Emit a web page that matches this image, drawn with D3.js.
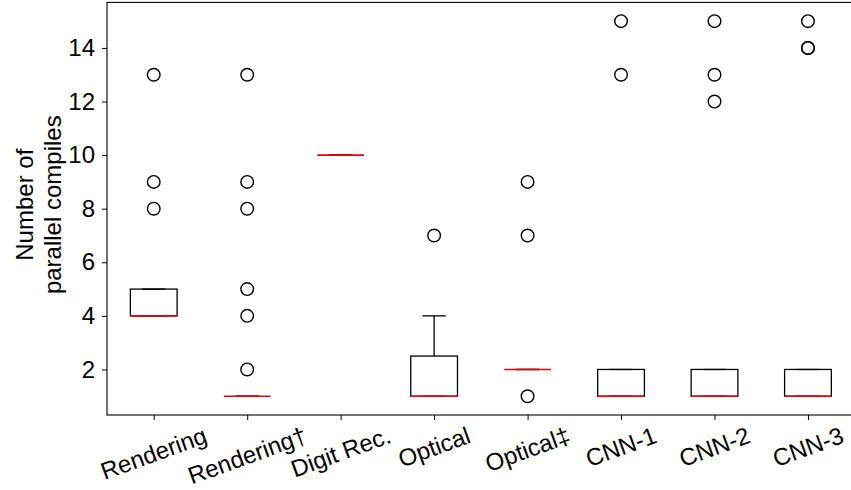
<!DOCTYPE html>
<html>
<head>
<meta charset="utf-8">
<script src="https://cdn.jsdelivr.net/npm/d3@7"></script>
<style>
  body { margin: 0; background: #fff; }
  text { font-family: "Liberation Sans", Arial, sans-serif; }
</style>
</head>
<body>
<div id="chart"></div>
<script>
// Box statistics
const categories = ["Rendering", "Rendering\u2020", "Digit Rec.", "Optical", "Optical\u2021", "CNN-1", "CNN-2", "CNN-3"];
const q1 =        [4, 1, 10, 1,   2, 1, 1, 1];
const medians =   [4, 1, 10, 1,   2, 1, 1, 1];
const q3 =        [5, 1, 10, 2.5, 2, 2, 2, 2];
const whiskLow =  [4, 1, 10, 1,   2, 1, 1, 1];
const whiskHigh = [5, 1, 10, 4,   2, 2, 2, 2];
const outliers = [
  [8, 9, 13],
  [2, 4, 5, 8, 9, 13],
  [],
  [7],
  [1, 7, 9],
  [13, 15],
  [12, 13, 15],
  [14, 14, 15]
];
const yTicks = [2, 4, 6, 8, 10, 12, 14];

const W = 851, H = 490;
const fontPx = 24;
const margin = {top: 2.4, right: -3.7, bottom: 75, left: 107};
const width = W - margin.left - margin.right,
      height = H - margin.top - margin.bottom;

const svg = d3.select("#chart").append("svg")
    .attr("width", W)
    .attr("height", H);

const g = svg.append("g")
    .attr("transform", `translate(${margin.left},${margin.top})`);

const x = d3.scaleLinear().domain([0.5, 8.5]).range([0, width]);
const y = d3.scaleLinear().domain([0.3, 15.7]).range([height, 0]);

const boxW = x(1.25) - x(1);   // half box width
const capW = boxW / 2;

// Y axis
const yAxis = g.append("g")
    .call(d3.axisLeft(y).tickValues(yTicks).tickSize(5).tickPadding(7));
yAxis.select(".domain").remove();
yAxis.selectAll("text").style("font-size", fontPx + "px").attr("fill", "#000");
yAxis.selectAll("line").attr("stroke", "#000");

// X axis
const xAxis = g.append("g")
    .attr("transform", `translate(0,${height})`)
    .call(d3.axisBottom(x).tickValues(d3.range(1, 9)).tickSize(5).tickFormat(""));
xAxis.select(".domain").remove();
xAxis.selectAll("line").attr("stroke", "#000");

// Rotated x labels, centred under each tick
categories.forEach(function(c, i) {
  const t = g.append("text")
      .style("font-size", fontPx + "px")
      .attr("text-anchor", "middle")
      .attr("dy", "0.35em")
      .text(c);
  const w = t.node().getComputedTextLength();
  const a = 20 * Math.PI / 180;
  const bh = w * Math.sin(a) + fontPx * Math.cos(a);
  t.attr("transform", `translate(${x(i + 1)},${height + 8 + bh / 2}) rotate(-20)`);
});

// Y axis label
const yl = svg.append("text")
    .attr("transform", `translate(33,${margin.top + height / 2 - 4}) rotate(-90)`)
    .attr("text-anchor", "middle")
    .style("font-size", fontPx + "px");
yl.append("tspan").attr("x", 0).attr("dy", 0).text("Number of");
yl.append("tspan").attr("x", 0).attr("dy", 28).text("parallel compiles");

// Boxes
const boxes = g.selectAll(".box")
  .data(categories)
  .join("g")
    .attr("class", "box")
    .attr("transform", (d, i) => `translate(${x(i + 1)},0)`);

boxes.append("line")
    .attr("y1", (d, i) => y(q3[i])).attr("y2", (d, i) => y(whiskHigh[i]))
    .attr("stroke", "#000").attr("stroke-width", 1.3);
boxes.append("line")
    .attr("y1", (d, i) => y(q1[i])).attr("y2", (d, i) => y(whiskLow[i]))
    .attr("stroke", "#000").attr("stroke-width", 1.3);
boxes.append("rect")
    .attr("x", -boxW)
    .attr("width", 2 * boxW)
    .attr("y", (d, i) => y(q3[i]))
    .attr("height", (d, i) => y(q1[i]) - y(q3[i]))
    .attr("fill", "none").attr("stroke", "#000").attr("stroke-width", 1.3);
[whiskLow, whiskHigh].forEach(function(arr) {
  boxes.append("line")
      .attr("x1", -capW).attr("x2", capW)
      .attr("y1", (d, i) => y(arr[i])).attr("y2", (d, i) => y(arr[i]))
      .attr("stroke", "#000").attr("stroke-width", 1.3);
});
boxes.append("line")
    .attr("x1", -boxW).attr("x2", boxW)
    .attr("y1", (d, i) => y(medians[i])).attr("y2", (d, i) => y(medians[i]))
    .attr("stroke", "#e8000b").attr("stroke-width", 1.6);

boxes.selectAll("circle")
  .data((d, i) => outliers[i])
  .join("circle")
    .attr("cy", d => y(d))
    .attr("r", 6.3)
    .attr("fill", "none")
    .attr("stroke", "#000")
    .attr("stroke-width", 1.4);

// Frame
g.append("rect")
    .attr("width", width).attr("height", height)
    .attr("fill", "none").attr("stroke", "#000").attr("stroke-width", 1.1);
</script>
</body>
</html>
